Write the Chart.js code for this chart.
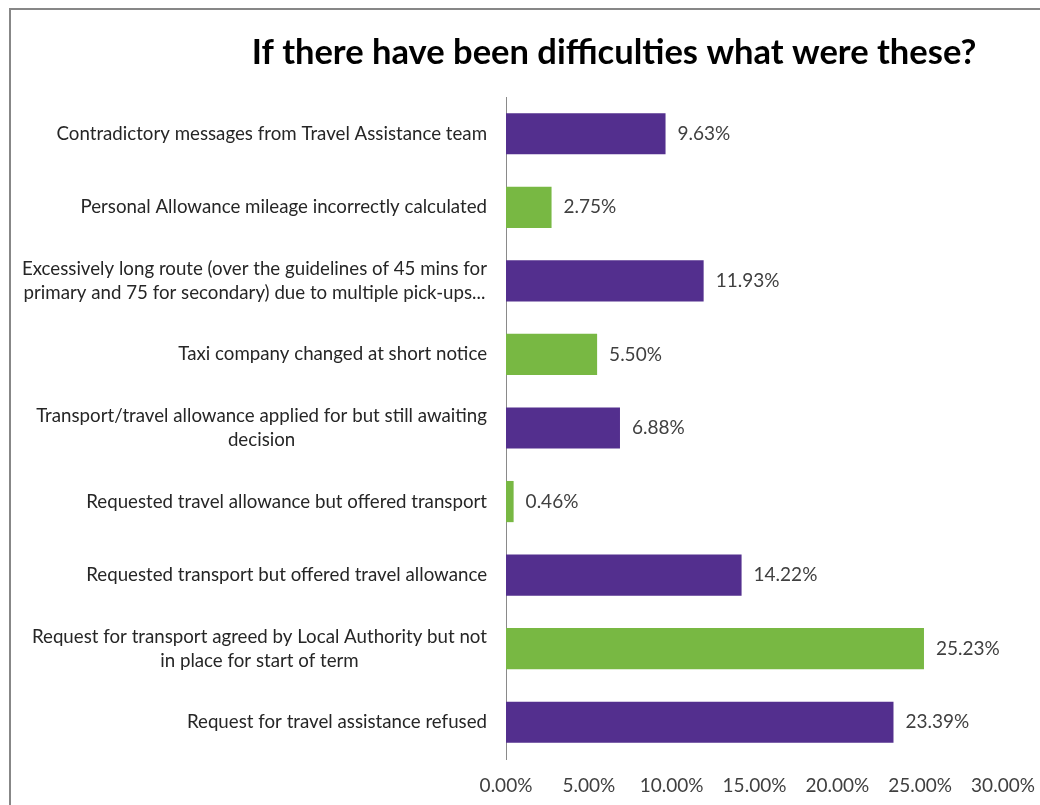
<!DOCTYPE html>
<html>
<head>
<meta charset="utf-8">
<script src="https://cdn.jsdelivr.net/npm/chart.js@4"></script>
<style>
  html, body { margin: 0; padding: 0; background: #ffffff; }
  canvas { display: block; }
</style>
</head>
<body>
<canvas id="difficultiesChart" width="1040" height="805"></canvas>
<script>
var chartTitle = "If there have been difficulties what were these?";

var categories = [
  ["Contradictory messages from Travel Assistance team"],
  ["Personal Allowance mileage incorrectly calculated"],
  ["Excessively long route (over the guidelines of 45 mins for", "primary and 75 for secondary) due to multiple pick-ups..."],
  ["Taxi company changed at short notice"],
  ["Transport/travel allowance applied for but still awaiting", "decision"],
  ["Requested travel allowance but offered transport"],
  ["Requested transport but offered travel allowance"],
  ["Request for transport agreed by Local Authority but not", "in place for start of term"],
  ["Request for travel assistance refused"]
];

var percentages = [9.63, 2.75, 11.93, 5.50, 6.88, 0.46, 14.22, 25.23, 23.39];

var barColours = ["#532f8e", "#78b843", "#532f8e", "#78b843", "#532f8e",
                  "#78b843", "#532f8e", "#78b843", "#532f8e"];

var xTicks = [0, 5, 10, 15, 20, 25, 30];

var FONT = "Lato, 'Open Sans', sans-serif";

// frame, title, wrapped category labels and value labels
var decorations = {
  id: 'decorations',
  beforeDraw: function (chart) {
    var ctx = chart.ctx;
    ctx.save();
    ctx.fillStyle = '#ffffff';
    ctx.fillRect(0, 0, chart.width, chart.height);
    ctx.strokeStyle = '#878787';
    ctx.lineWidth = 2;
    ctx.strokeRect(10, 9, chart.width + 20, chart.height + 20);
    ctx.restore();
  },
  afterDraw: function (chart) {
    var ctx = chart.ctx;
    var yScale = chart.scales.y;
    ctx.save();

    ctx.fillStyle = '#000000';
    ctx.font = "bold 34.5px " + FONT;
    ctx.textAlign = 'center';
    ctx.textBaseline = 'middle';
    ctx.fillText(chartTitle, 614, 53);

    ctx.font = "18.7px " + FONT;
    ctx.fillStyle = '#262626';
    var lineHeight = 24;
    categories.forEach(function (lines, i) {
      var cy = yScale.getPixelForValue(i);
      var widest = 0;
      lines.forEach(function (l) { widest = Math.max(widest, ctx.measureText(l).width); });
      var right = yScale.right - 19;
      var cx = right - widest / 2;
      var y0 = cy - (lines.length - 1) * lineHeight / 2;
      lines.forEach(function (l, k) {
        ctx.fillText(l, cx, y0 + k * lineHeight);
      });
    });

    ctx.font = "19px " + FONT;
    ctx.fillStyle = '#404040';
    ctx.textAlign = 'left';
    var meta = chart.getDatasetMeta(0);
    meta.data.forEach(function (bar, i) {
      ctx.fillText(percentages[i].toFixed(2) + '%', bar.x + 12, bar.y);
    });
    ctx.restore();
  }
};

new Chart(document.getElementById('difficultiesChart').getContext('2d'), {
  type: 'bar',
  data: {
    labels: categories,
    datasets: [{
      data: percentages,
      backgroundColor: barColours,
      borderWidth: 0,
      categoryPercentage: 1,
      barPercentage: 0.56
    }]
  },
  options: {
    indexAxis: 'y',
    responsive: false,
    animation: false,
    layout: {
      padding: { top: 97, right: 37, bottom: 0, left: 0 }
    },
    plugins: {
      legend: { display: false },
      title: { display: false },
      tooltip: { enabled: false }
    },
    scales: {
      x: {
        min: 0,
        max: 30,
        afterBuildTicks: function (scale) {
          scale.ticks = xTicks.map(function (v) { return { value: v }; });
        },
        afterFit: function (scale) {
          scale.height = 46;
          scale.paddingLeft = 0;
          scale.paddingRight = 0;
        },
        grid: { display: false, drawTicks: false },
        border: { display: false },
        ticks: {
          padding: 15,
          color: '#404040',
          font: { family: FONT, size: 19 },
          maxRotation: 0,
          callback: function (v) { return v.toFixed(2) + '%'; }
        }
      },
      y: {
        grid: { display: false, drawTicks: false },
        border: { display: true, color: '#8a8a8a', width: 1 },
        ticks: { display: false },
        afterFit: function (scale) { scale.width = 506; }
      }
    }
  },
  plugins: [decorations]
});
</script>
</body>
</html>
